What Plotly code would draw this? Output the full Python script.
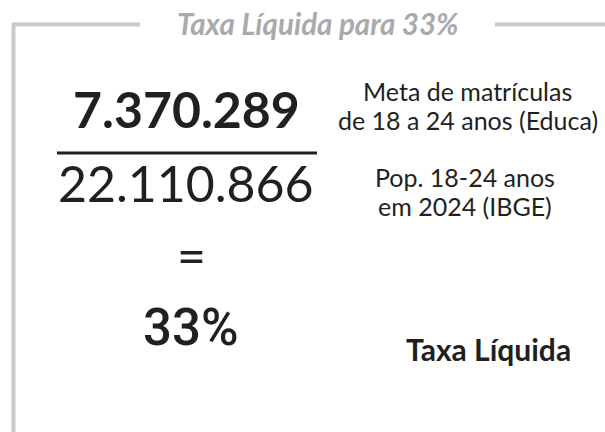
import plotly.graph_objects as go

# --- data ---
title_text = "Taxa Líquida para 33%"
numerator = 7370289
denominator = 22110866
rate_pct = 33
numerator_label = ["Meta de matrículas", "de 18 a 24 anos (Educa)"]
denominator_label = ["Pop. 18-24 anos", "em 2024 (IBGE)"]
rate_label = "Taxa Líquida"


def fmt_br(n):
    return f"{n:,}".replace(",", ".")


W, H = 605, 432
GRAY = "#c9cacc"
TITLE_GRAY = "#a8aaae"
DARK = "#231f20"

fig = go.Figure()
fig.update_layout(
    width=W, height=H,
    margin=dict(l=0, r=0, t=0, b=0),
    paper_bgcolor="white", plot_bgcolor="white",
    showlegend=False,
    xaxis=dict(range=[0, W], visible=False, fixedrange=True),
    yaxis=dict(range=[H, 0], visible=False, fixedrange=True),
)

# frame lines
fig.add_shape(type="line", x0=13.5, x1=140, y0=24.5, y1=24.5, line=dict(color=GRAY, width=4))
fig.add_shape(type="line", x0=495, x1=W, y0=24.5, y1=24.5, line=dict(color=GRAY, width=4))
fig.add_shape(type="line", x0=13.5, x1=13.5, y0=22.5, y1=H, line=dict(color=GRAY, width=4))
# fraction bar
fig.add_shape(type="line", x0=57, x1=317, y0=153, y1=153, line=dict(color=DARK, width=3))


def ann(text, x, y, size, weight="normal", style="normal", color=DARK, family="Lato"):
    fig.add_annotation(
        x=x, y=y, xref="x", yref="y", text=text, showarrow=False,
        xanchor="center", yanchor="middle",
        font=dict(family=family, size=size, color=color, weight=weight, style=style),
    )


ann(title_text, 318, 23.5, 29.5, weight="bold", style="italic", color=TITLE_GRAY)
ann(fmt_br(numerator), 186, 108.5, 50, weight="bold")
ann(fmt_br(denominator), 186, 183, 50)
ann("=", 191.5, 255, 50)
for i, line in enumerate(numerator_label):
    ann(line, 467.5, 91 + i * 29, 25)
for i, line in enumerate(denominator_label):
    ann(line, 464.5, 177 + i * 28.5, 25)
ann(f"{rate_pct}%", 191, 327, 51, weight=500, family="Roboto")
ann(rate_label, 488, 349, 30, weight="bold")

fig.write_html(
    "out.html",
    config={"displayModeBar": False, "staticPlot": True},
    post_script="document.body.style.margin='0';document.body.style.overflow='hidden';",
)
